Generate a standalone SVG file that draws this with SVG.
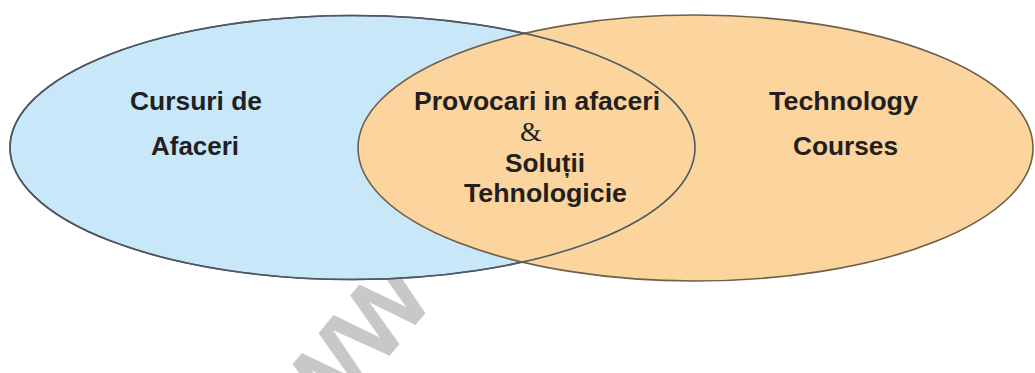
<svg xmlns="http://www.w3.org/2000/svg" width="1035" height="373" viewBox="0 0 1035 373">
  <style>
    .label { font-family: "Liberation Sans", Arial, sans-serif; font-weight: bold; font-size: 25px; fill: #231f20; }
    .amp { font-family: "Liberation Serif", "Times New Roman", serif; font-size: 28px; fill: #231f20; }
    .mark { font-family: "Liberation Sans", Arial, sans-serif; font-size: 124px; fill: #c8c8c8; stroke: #c8c8c8; stroke-width: 3.5; }
    .fill-blue { fill: #c8e8fa; stroke: none; }
    .fill-orange { fill: #fbd49e; stroke: none; }
    .edge-blue { fill: none; stroke: #4f5863; stroke-width: 1.6; }
    .edge-orange { fill: none; stroke: #6f5f48; stroke-width: 1.6; }
  </style>
  <defs>
    <ellipse id="shape-business" cx="352.5" cy="147.5" rx="342.5" ry="132"/>
    <ellipse id="shape-tech" cx="695.5" cy="148" rx="337.5" ry="133"/>
  </defs>

  <rect width="1035" height="373" fill="#ffffff"/>

  <!-- faint background mark, mostly hidden behind the sets -->
  <text class="mark" transform="translate(320,436) rotate(-50)">ww</text>

  <g id="business">
    <use href="#shape-business" class="fill-blue"/>
    <use href="#shape-business" class="edge-blue"/>
    <text class="label" x="130" y="110" textLength="132" lengthAdjust="spacingAndGlyphs">Cursuri de</text>
    <text class="label" x="151" y="155" textLength="88" lengthAdjust="spacingAndGlyphs">Afaceri</text>
  </g>

  <g id="technology">
    <use href="#shape-tech" class="fill-orange"/>
    <use href="#shape-tech" class="edge-orange"/>
    <text class="label" x="769" y="110" textLength="149" lengthAdjust="spacingAndGlyphs">Technology</text>
    <text class="label" x="793" y="155" textLength="105" lengthAdjust="spacingAndGlyphs">Courses</text>
  </g>

  <g id="overlap">
    <!-- right boundary of the shared region -->
    <use href="#shape-business" class="edge-blue"/>
    <text class="label" x="414" y="110" textLength="246" lengthAdjust="spacingAndGlyphs">Provocari in afaceri</text>
    <text class="amp" x="520" y="141">&amp;</text>
    <text class="label" x="505" y="172" textLength="80" lengthAdjust="spacingAndGlyphs">Soluții</text>
    <text class="label" x="464" y="202" textLength="163" lengthAdjust="spacingAndGlyphs">Tehnologicie</text>
  </g>
</svg>
